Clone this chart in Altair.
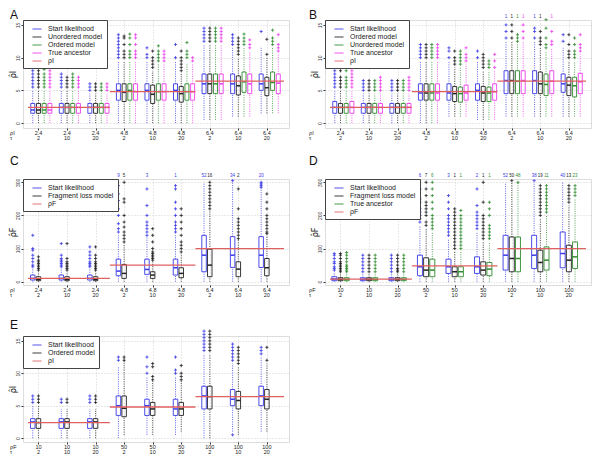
import altair as alt
import pandas as pd

FONT = "Liberation Sans"
BLUE, BLACK, GREEN, MAG, RED = "#3a3ae6", "#222222", "#2e8b2e", "#ee3cee", "#e06060"

GROUP_X = [0, 30, 60, 90, 120, 150, 180, 210, 240]
XDOM = [-11, 258]
EDGES = [-11, 75, 165, 258]
TAU = ["2", "10", "20"] * 3

# ---------------- Panel A ----------------
A_series = ["Start likelihood", "Unordered model", "Ordered model", "True ancestor"]
A_rho = ["2.4"] * 3 + ["4.8"] * 3 + ["6.4"] * 3
A_true = [2.4, 4.8, 6.4]
A_q1 = [[1.5, 1.5, 1.5, 3.5, 3.5, 3.5, 4.5, 4.5, 5.0],
        [1.5, 1.5, 1.5, 3.3, 3.0, 3.2, 4.5, 4.3, 4.2],
        [1.5, 1.5, 1.5, 3.5, 3.5, 3.5, 4.5, 4.7, 5.0],
        [1.5, 1.5, 1.5, 3.5, 3.5, 3.5, 4.5, 4.5, 4.5]]
A_med = [[2.0, 2.4, 2.4, 5.0, 5.0, 5.0, 6.0, 6.0, 6.0],
         [2.0, 2.4, 2.4, 4.7, 4.4, 4.5, 6.0, 5.7, 5.4],
         [2.0, 2.4, 2.4, 5.0, 4.8, 4.8, 6.0, 6.3, 6.2],
         [2.0, 2.4, 2.4, 4.8, 4.8, 4.8, 6.0, 6.0, 6.1]]
A_q3 = [[3.0, 3.0, 3.0, 6.0, 6.0, 6.0, 7.5, 7.5, 7.5],
        [3.0, 3.0, 3.0, 6.0, 5.8, 5.6, 7.5, 7.2, 7.0],
        [3.0, 3.0, 3.0, 6.0, 6.0, 6.0, 7.5, 7.8, 7.8],
        [3.0, 3.0, 3.0, 6.0, 6.0, 6.0, 7.5, 7.5, 7.5]]
A_lo = [[0, 0, 0, 0, 0, 0, 0.5, 1.0, 1.5]] * 4
A_hi = [[5.0, 5.0, 4.5, 9.5, 9.5, 9.5, 12.0, 11.5, 11.5],
        [5.0, 5.0, 4.5, 9.5, 8.0, 7.5, 12.0, 10.0, 10.0],
        [5.0, 5.0, 4.5, 9.5, 9.0, 9.0, 12.0, 11.5, 11.5],
        [5.0, 5.0, 4.5, 9.5, 9.0, 9.0, 12.0, 11.0, 10.5]]
A_out = [
    [[5.5, 6, 6.5, 7, 7.5, 8], [5.5, 6, 6.5, 7, 7.5], [5, 5.5, 6], [10, 10.5, 11, 11.5, 12, 12.5, 13, 13.5],
     [10, 10.5, 11.5], [10, 12], [12.5, 13, 13.5, 14, 14.5], [12, 12.5, 13, 13.5], [14]],
    [[5.5, 6, 6.5, 7, 7.5, 8], [5.5, 6, 6.5, 7], [5, 5.5, 6], [10, 10.5, 11, 12, 13, 13.3],
     [8.5, 9, 9.5, 10, 11], [8, 8.5, 9, 9.5, 10, 11], [12.5, 13, 13.5, 14, 14.5], [10.5, 11, 11.5, 12, 12.5, 13], [10.5, 12.8]],
    [[5.5, 6, 6.5, 7, 7.5, 8.2], [5.5, 6, 6.5, 7, 7.5], [5, 5.5, 6], [10, 10.5, 11, 12, 13, 13.6],
     [9.5, 10, 10.5, 11, 11.8], [10, 10.5, 11, 12.3], [12.5, 13, 13.5, 14, 14.5], [12, 12.5, 13, 13.6], [12, 12.5, 13, 14.2]],
    [[5.5, 6, 6.5, 7, 7.5, 8], [5.5, 6, 6.5, 7], [5, 5.5, 6], [10, 10.5, 11, 12, 13, 13.5],
     [9.5, 10, 10.5, 11], [9.5, 10], [12.5, 13, 13.5, 14, 14.5], [11.5, 12, 12.7], [11, 11.5, 12, 13.5]]]
A_cnt = None

# ---------------- Panel B ----------------
B_series = ["Start likelihood", "Ordered model", "Unordered model", "True ancestor"]
B_q1 = [[1.5, 1.5, 1.5, 3.5, 3.5, 3.5, 4.5, 4.5, 4.7],
        [1.5, 1.5, 1.5, 3.5, 3.3, 3.3, 4.5, 4.5, 4.2],
        [1.5, 1.5, 1.5, 3.5, 3.2, 3.3, 4.5, 4.2, 4.0],
        [1.5, 1.5, 1.5, 3.5, 3.5, 3.5, 4.5, 4.5, 4.5]]
B_med = [[2.4, 2.4, 2.4, 4.6, 4.6, 5.0, 6.5, 6.5, 6.0],
         [2.4, 2.4, 2.4, 4.6, 4.5, 4.6, 6.5, 6.0, 5.8],
         [2.4, 2.4, 2.4, 4.6, 4.5, 4.6, 6.4, 5.9, 5.7],
         [2.4, 2.4, 2.4, 4.6, 4.6, 4.8, 6.5, 6.4, 6.3]]
B_q3 = [[3.3, 3.0, 3.0, 6.0, 6.0, 6.0, 8.0, 8.0, 7.5],
        [3.0, 3.0, 3.0, 6.0, 5.6, 5.6, 8.0, 7.8, 7.0],
        [3.0, 3.0, 3.0, 6.0, 5.5, 5.5, 8.0, 7.5, 7.0],
        [3.3, 3.0, 3.0, 6.0, 5.8, 6.0, 8.0, 8.0, 7.6]]
B_lo = [[0, 0, 0, 0, 1.0, 0.5, 1.0, 1.0, 1.0]] * 4
B_hi = [[5.0, 4.5, 4.5, 9.5, 9.5, 9.5, 12.5, 12.5, 11.5],
        [5.0, 4.5, 4.5, 9.5, 8.5, 8.0, 12.5, 11.5, 9.5],
        [5.0, 4.5, 4.5, 9.5, 8.5, 8.0, 12.0, 11.0, 9.5],
        [5.0, 4.5, 4.5, 9.5, 9.0, 8.0, 12.5, 11.5, 10.5]]
B_out = [
    [[5.5, 6, 6.5, 7, 7.5, 8], [5, 5.5, 6, 6.5], [5, 5.5, 6, 6.5], [10, 10.5, 11, 11.5, 12],
     [10, 11, 11.5], [10, 11], [13, 14, 15], [13, 14, 14.5], [12.5, 13.5]],
    [[5.5, 6, 6.5, 7, 8], [5, 5.5, 6, 6.5], [5, 5.5, 6, 6.5], [10, 10.5, 11, 11.5, 12],
     [9, 9.5, 10, 11], [8.5, 9, 9.5, 10, 10.5], [13, 14, 15], [12, 12.5, 13, 14], [10, 10.5, 11, 12, 13.5]],
    [[5.5, 6, 6.5, 7, 8], [5, 5.5, 6, 6.5], [5, 5.5, 6, 6.5], [10, 10.5, 11, 11.5, 12],
     [9, 9.5, 10, 10.5, 11], [8.5, 9, 9.5], [12.5, 13, 13.5], [11.5, 12, 13, 14.5, 15.8], [10, 10.5, 11, 12, 13]],
    [[5.5, 6, 6.5, 7, 7.5, 8], [5, 5.5, 6, 6.5, 7], [5, 5.5, 6, 6.5, 7], [10, 10.5, 11, 11.5, 12],
     [9.5, 10, 10.5, 11.5], [8.5, 9.5, 10.5], [13, 14, 15], [12, 12.5, 14], [11, 11.5, 12, 13.5]]]
B_cnt = [[0, 0, 0, 0, 0, 0, 1, 1, 0],
         [0, 0, 0, 0, 0, 0, 1, 1, 0],
         [0, 0, 0, 0, 0, 0, 1, 0, 0],
         [0, 0, 0, 0, 0, 0, 1, 1, 0]]

# ---------------- Panel C ----------------
C_series = ["Start likelihood", "Fragment loss model"]
C_true = [10, 50, 100]
C_q1 = [[5, 5, 5, 18, 22, 20, 30, 43, 43],
        [3, 3, 3, 10, 10, 12, 15, 15, 18]]
C_med = [[10, 10, 10, 32, 37, 42, 80, 80, 80],
         [7, 7, 7, 25, 20, 25, 50, 38, 42]]
C_q3 = [[20, 20, 20, 68, 68, 68, 140, 136, 136],
        [15, 15, 15, 52, 30, 42, 98, 60, 70]]
C_lo = [[0] * 9] * 2
C_hi = [[40, 40, 40, 140, 135, 140, 300, 300, 300],
        [30, 30, 30, 115, 60, 85, 215, 125, 140]]
C_out = [
    [[45, 50, 60, 70, 80, 95, 100, 140], [45, 50, 55, 60, 65, 70, 80, 115], [45, 50, 55, 60, 70, 80, 90, 105],
     [150, 160, 175, 200, 220, 245, 265, 290], [140, 150, 160, 170, 180, 200, 230, 280],
     [150, 160, 170, 180, 200, 220, 240, 280, 290], [], [305], [285, 290, 295, 300]],
    [[35, 40, 45, 50, 55, 60, 65, 75], [35, 40, 45, 50, 55, 60, 70, 115], [35, 40, 45, 50, 55, 60, 70, 80, 105],
     [120, 130, 140, 150, 165, 180, 200, 240, 250, 300], [65, 70, 75, 80, 85, 90, 100, 120, 140, 160],
     [90, 100, 110, 120, 140, 160, 180, 200, 220], [220, 230, 240, 250, 260, 270, 280, 290, 300],
     [130, 140, 150, 160, 170, 180, 190, 220, 280], [145, 150, 160, 170, 180, 190, 200, 220, 240, 265]]]
C_cnt = [[0, 0, 0, 9, 3, 1, 52, 34, 20],
         [0, 0, 0, 5, 0, 0, 16, 2, 0]]

# ---------------- Panel D ----------------
D_series = ["Start likelihood", "Fragment loss model", "True ancestor"]
D_rho = ["10"] * 3 + ["50"] * 3 + ["100"] * 3
D_true = [8, 48, 100]
D_q1 = [[3, 3, 3, 18, 25, 25, 35, 40, 42],
        [3, 3, 3, 15, 15, 20, 30, 30, 30],
        [3, 3, 3, 15, 15, 18, 30, 35, 40]]
D_med = [[8, 7, 7, 45, 45, 45, 80, 80, 85],
         [7, 7, 7, 35, 30, 35, 70, 58, 65],
         [7, 7, 7, 35, 30, 38, 70, 65, 75]]
D_q3 = [[15, 12, 12, 80, 68, 75, 140, 140, 150],
        [12, 12, 12, 72, 45, 60, 135, 95, 110],
        [12, 12, 12, 68, 45, 58, 135, 105, 120]]
D_lo = [[0] * 9] * 3
D_hi = [[30, 25, 25, 170, 130, 150, 300, 300, 300],
        [25, 25, 25, 160, 90, 120, 300, 190, 230],
        [25, 25, 25, 150, 90, 120, 300, 200, 250]]
D_out = [
    [[35, 40, 45, 55, 60, 70, 80, 85], [30, 40, 50, 60, 70, 80], [30, 40, 50, 60, 70, 80],
     [180, 190, 200, 210, 220, 240, 250, 280], [140, 150, 160, 170, 180, 190, 200, 220, 240, 260],
     [160, 170, 180, 190, 200, 210, 230, 280], [], [305], []],
    [[30, 35, 40, 45, 50, 55, 60, 70, 80, 85], [30, 40, 50, 60, 70, 80], [30, 35, 40, 50, 60, 70, 80],
     [170, 180, 200, 210, 220, 230, 240, 260, 280, 300],
     [100, 110, 120, 130, 140, 150, 160, 170, 180, 190, 200, 210, 220],
     [130, 140, 150, 160, 170, 180, 190, 200, 240, 300], [305],
     [200, 210, 220, 230, 240, 250, 260, 270, 280, 290], [240, 250, 260, 270, 280, 290]],
    [[30, 35, 40, 45, 50, 60, 70, 80, 88], [30, 40, 50, 60, 70, 80], [30, 40, 50, 60, 70, 80],
     [160, 170, 180, 190, 200, 220, 240, 260, 280, 300],
     [100, 110, 120, 130, 140, 150, 160, 170, 180, 190, 200, 215],
     [130, 140, 150, 160, 170, 200, 220, 240], [300],
     [210, 220, 230, 240, 250, 260, 270, 280, 290], [260, 270, 280, 290]]]
D_cnt = [[0, 0, 0, 6, 3, 2, 52, 38, 40],
         [0, 0, 0, 7, 1, 1, 50, 19, 13],
         [0, 0, 0, 6, 1, 1, 48, 11, 23]]

# ---------------- Panel E ----------------
E_series = ["Start likelihood", "Ordered model"]
E_q1 = [[1.5, 1.5, 1.5, 3.5, 3.5, 3.5, 4.5, 5.0, 5.0],
        [1.5, 1.5, 1.5, 3.3, 3.5, 3.5, 4.5, 4.5, 4.5]]
E_med = [[2.5, 2.5, 2.5, 5.0, 5.0, 4.5, 6.5, 6.0, 6.5],
         [2.4, 2.5, 2.5, 4.6, 4.5, 4.5, 6.4, 5.8, 6.0]]
E_q3 = [[3.0, 3.0, 3.0, 6.5, 6.0, 6.0, 8.0, 7.5, 8.0],
        [3.0, 3.0, 3.0, 6.5, 5.5, 5.5, 8.0, 7.2, 7.5]]
E_lo = [[0, 0, 0, 0, 0.5, 0.5, 0, 1.0, 1.0],
        [0, 0, 0, 0.5, 0.5, 1.0, 0, 0.5, 1.0]]
E_hi = [[5.0, 4.5, 4.5, 11.0, 9.5, 9.5, 13.0, 11.5, 12.5],
        [5.0, 4.5, 4.5, 12.5, 9.0, 9.0, 13.0, 11.0, 11.5]]
E_out = [
    [[5.5, 6, 6.5], [5.5, 6], [5.5, 6, 6.5], [12, 12.5], [10, 11, 12.5], [10, 10.5, 12.5],
     [13.5, 14, 14.5, 15, 15.5, 16, 16.5], [0.5, 12, 12.5, 13, 13.5, 14, 14.5], [13, 13.5, 14]],
    [[5.5, 6, 6.5], [5.5, 6], [5.5, 6, 6.5], [12, 12.5], [9, 9.5, 11, 11.5], [9, 9.5, 10, 11.2],
     [13.5, 14, 14.5, 15, 15.5, 16, 16.5], [11.5, 12, 12.5, 13, 13.5, 14], [12, 14]]]
E_cnt = None

PLUS = "M-1,0L1,0M0,-1L0,1"
PW = 266


def panel(letter, letter_x, letter_y, series, colors, offsets, boxw, q1, med, q3, lo, hi,
          outl, counts, truth, truth_label, rho_labels, rho_name, ydom, yticks, ytitle, height):
    brows, orows, crows = [], [], []
    for si, s in enumerate(series):
        for g in range(9):
            x = GROUP_X[g] + offsets[si]
            brows.append(dict(x=x, xl=x - boxw / 2, xr=x + boxw / 2, s=s, q1=q1[si][g],
                              med=med[si][g], q3=q3[si][g], lo=lo[si][g], hi=hi[si][g]))
            for v in outl[si][g]:
                orows.append(dict(x=x, s=s, v=v))
            if counts is not None and counts[si][g] > 0:
                crows.append(dict(x=x, s=s, n=str(counts[si][g])))
    bdf = pd.DataFrame(brows)
    odf = pd.DataFrame(orows)
    tdf = pd.DataFrame(dict(x=EDGES[:-1], x2=EDGES[1:], y=truth, s=[truth_label] * 3))
    ldf = pd.DataFrame(dict(x=GROUP_X, rho=rho_labels, tau=TAU))
    one = pd.DataFrame(dict(a=[0]))

    xs = alt.Scale(domain=XDOM, nice=False, zero=False)
    ys = alt.Scale(domain=ydom, nice=False, zero=False)
    x_axis = alt.Axis(values=GROUP_X, labels=False, ticks=True, tickSize=2, tickColor="#333",
                      grid=True, gridColor="#d0d0d0", gridDash=[1, 2], domain=False, title=None)
    y_axis = alt.Axis(values=yticks, labelAngle=270, labelFontSize=5, labelFont=FONT,
                      labelColor="#333", labelPadding=0.5, tickSize=2, tickColor="#333",
                      grid=True, gridColor="#d0d0d0", gridDash=[1, 2], domain=False,
                      title=ytitle, titleFontSize=8, titleFont="DejaVu Sans",
                      titleFontWeight="normal", titleColor="#111", titleAngle=270,
                      titleX=-6, titleY=height / 2, titleAlign="center", titleBaseline="bottom")

    def X(f):
        return alt.X(f"{f}:Q", scale=xs, axis=x_axis)

    def Y(f):
        return alt.Y(f"{f}:Q", scale=ys, axis=y_axis)

    sdom = series + [truth_label]
    srng = colors + [RED]
    legend = alt.Legend(title=None, orient="top-left", offset=0, symbolType="stroke",
                        symbolSize=80, symbolStrokeWidth=1, labelFontSize=7, labelFont=FONT,
                        labelColor="#222", rowPadding=0, padding=4, strokeColor="#444",
                        fillColor="white", symbolOffset=5, labelOffset=6, symbolDash=[1, 0])

    def S():
        return alt.Stroke("s:N", scale=alt.Scale(domain=sdom, range=srng), legend=legend)

    w1 = alt.Chart(bdf).mark_rule(strokeDash=[1, 1.3], strokeWidth=0.8).encode(
        x=X("x"), y=Y("lo"), y2="q1", stroke=S())
    w2 = alt.Chart(bdf).mark_rule(strokeDash=[1, 1.3], strokeWidth=0.8).encode(
        x=X("x"), y=Y("q3"), y2="hi", stroke=S())
    box = alt.Chart(bdf).mark_bar(size=boxw, fillOpacity=0, strokeWidth=0.9).encode(
        x=X("x"), y=Y("q1"), y2="q3", stroke=S())
    medl = alt.Chart(bdf).mark_rule(strokeWidth=1.5).encode(
        x=X("xl"), x2="xr", y=Y("med"), stroke=S())
    outp = alt.Chart(odf).mark_point(shape=PLUS, size=10, strokeWidth=0.8, filled=False,
                                     opacity=1).encode(x=X("x"), y=Y("v"), stroke=S())
    tr = alt.Chart(tdf).mark_rule(strokeWidth=1.3).encode(
        x=X("x"), x2="x2", y=Y("y"), stroke=S())
    lab1 = alt.Chart(ldf).mark_text(fontSize=5.5, font=FONT, color="#222").encode(
        x=X("x"), y=alt.value(height + 5), text="rho:N")
    lab2 = alt.Chart(ldf).mark_text(fontSize=5.5, font=FONT, color="#222").encode(
        x=X("x"), y=alt.value(height + 10), text="tau:N")
    left1 = alt.Chart(one).mark_text(fontSize=5.5, font=FONT, color="#222", align="left").encode(
        x=alt.value(letter_x), y=alt.value(height + 5), text=alt.value(rho_name))
    left2 = alt.Chart(one).mark_text(fontSize=5.5, font=FONT, color="#222", align="left").encode(
        x=alt.value(letter_x), y=alt.value(height + 10), text=alt.value("τ"))
    let = alt.Chart(one).mark_text(fontSize=12, font=FONT, color="#111", align="left",
                                   baseline="alphabetic").encode(
        x=alt.value(letter_x), y=alt.value(letter_y), text=alt.value(letter))
    layers = [w1, w2, box, medl, outp, tr, lab1, lab2, left1, left2, let]
    if crows:
        cdf = pd.DataFrame(crows)
        cnt = alt.Chart(cdf).mark_text(fontSize=4.5, font=FONT, baseline="alphabetic").encode(
            x=X("x"), y=alt.value(-2), text="n:N",
            fill=alt.Fill("s:N", scale=alt.Scale(domain=sdom, range=srng), legend=None))
        layers.append(cnt)
    return alt.layer(*layers).properties(width=PW, height=height)


c4 = [BLUE, BLACK, GREEN, MAG]
A = panel("A", -13, -1, A_series, c4, [-6, 0, 6, 12], 4, A_q1, A_med, A_q3, A_lo, A_hi, A_out,
          A_cnt, A_true, "ρI", A_rho, "ρI", [-0.75, 15.75], [0, 5, 10, 15], "ρ̂I", 108)
B = panel("B", -16, -1, B_series, c4, [-6, 0, 6, 12], 4, B_q1, B_med, B_q3, B_lo, B_hi, B_out,
          B_cnt, A_true, "ρI", A_rho, "ρI", [-0.75, 15.75], [0, 5, 10, 15], "ρ̂I", 108)
C = panel("C", -13, -14, C_series, [BLUE, BLACK], [-6, 0], 4.5, C_q1, C_med, C_q3, C_lo, C_hi,
          C_out, C_cnt, C_true, "ρF", A_rho, "ρI", [-10, 310], [0, 100, 200, 300], "ρ̂F", 106)
D = panel("D", -16, -14, D_series, [BLUE, BLACK, GREEN], [-6.5, 0, 6.5], 5, D_q1, D_med, D_q3,
          D_lo, D_hi, D_out, D_cnt, D_true, "ρF", D_rho, "ρF", [-10, 310], [0, 100, 200, 300],
          "ρ̂F", 106)
E = panel("E", -13, -7, E_series, [BLUE, BLACK], [-6, 0], 4.5, E_q1, E_med, E_q3, E_lo, E_hi,
          E_out, E_cnt, A_true, "ρI", D_rho, "ρF", [-0.6, 15.75], [0, 5, 10, 15], "ρ̂I", 106)

chart = alt.concat(A, B, C, D, E, columns=2, spacing={"row": 51, "column": 36}, bounds="flush")
chart = chart.resolve_scale(x="independent", y="independent", stroke="independent",
                            fill="independent").resolve_legend(stroke="independent",
                                                               fill="independent")
chart = chart.properties(padding=0)
chart = chart.configure_view(stroke="#444", strokeWidth=0.8).configure(font=FONT)

chart.save("out.html", embed_options={"renderer": "svg", "actions": False})
